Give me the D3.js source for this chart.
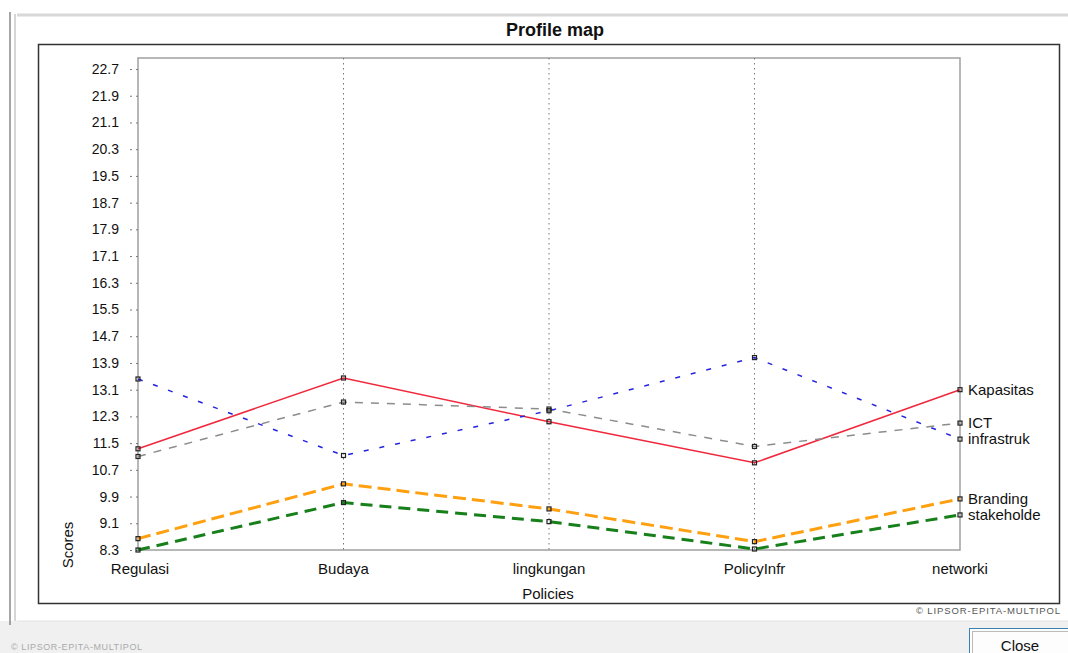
<!DOCTYPE html>
<html>
<head>
<meta charset="UTF-8">
<title>Profile map</title>
<script src="https://cdn.jsdelivr.net/npm/d3@7"></script>
<style>
  body { margin: 0; background: #fff; font-family: 'Liberation Sans', Arial, sans-serif; }
  text { fill: #111; }
</style>
</head>
<body>
<svg width="1068" height="653"></svg>
<script>
const policies = ['Regulasi', 'Budaya', 'lingkungan', 'PolicyInfr', 'networki'];
const tickLabels = ['8.3', '9.1', '9.9', '10.7', '11.5', '12.3', '13.1', '13.9', '14.7', '15.5',
  '16.3', '17.1', '17.9', '18.7', '19.5', '20.3', '21.1', '21.9', '22.7'];

const kapasitas  = [11.33, 13.45, 12.14, 10.91, 13.10];
const infrastruk = [13.42, 11.13, 12.47, 14.06, 11.62];
const ict        = [11.10, 12.73, 12.52, 11.40, 12.10];
const branding   = [8.64, 10.28, 9.53, 8.55, 9.83];
const stakeholde = [8.30, 9.72, 9.15, 8.33, 9.35];

const series = [
  { name: 'Kapasitas', values: kapasitas, color: '#f0283c', width: 1.5, dash: null },
  { name: 'ICT', values: ict, color: '#8c8c8c', width: 1.5, dash: '8,8' },
  { name: 'infrastruk', values: infrastruk, color: '#2424e0', width: 1.5, dash: '5,11' },
  { name: 'Branding', values: branding, color: '#ffa010', width: 3, dash: '13,6' },
  { name: 'stakeholde', values: stakeholde, color: '#17801a', width: 3, dash: '12,7' }
];

const svg = d3.select('svg');

// window chrome
svg.append('rect').attr('x', 0).attr('y', 621).attr('width', 1068).attr('height', 32).attr('fill', '#f0f0f0');
svg.append('line').attr('x1', 17).attr('x2', 1068).attr('y1', 621).attr('y2', 621).attr('stroke', '#e2e2e2');
svg.append('line').attr('x1', 17).attr('x2', 1068).attr('y1', 15).attr('y2', 15).attr('stroke', '#d8d8d8').attr('stroke-width', 3);
svg.append('line').attr('x1', 10).attr('x2', 10).attr('y1', 12).attr('y2', 625).attr('stroke', '#888').attr('stroke-width', 1.5);
svg.append('line').attr('x1', 15).attr('x2', 15).attr('y1', 14).attr('y2', 621).attr('stroke', '#c8c8c8').attr('stroke-width', 1.5);
svg.append('text').attr('x', 11).attr('y', 650).attr('font-size', 9).attr('letter-spacing', 0.6)
  .style('fill', '#aaa').text('© LIPSOR-EPITA-MULTIPOL');
svg.append('rect').attr('x', 969.5).attr('y', 628.5).attr('width', 110).attr('height', 30)
  .attr('fill', '#fdfdfd').attr('stroke', '#3c7fb1').attr('stroke-width', 1);
svg.append('rect').attr('x', 972.5).attr('y', 631.5).attr('width', 104).attr('height', 24)
  .attr('fill', 'none').attr('stroke', '#777').attr('stroke-dasharray', '1,1');
svg.append('text').attr('x', 1020).attr('y', 651).attr('text-anchor', 'middle').attr('font-size', 15).text('Close');

// title and chart frame
svg.append('text').attr('x', 555).attr('y', 36).attr('text-anchor', 'middle')
  .attr('font-size', 18).attr('font-weight', 'bold').text('Profile map');
svg.append('rect').attr('x', 38.5).attr('y', 44.5).attr('width', 1021).attr('height', 559)
  .attr('fill', 'none').attr('stroke', '#333').attr('stroke-width', 1.5);
svg.append('text').attr('x', 1061).attr('y', 614).attr('text-anchor', 'end')
  .attr('font-size', 9.5).attr('letter-spacing', 0.9).style('fill', '#555').text('© LIPSOR-EPITA-MULTIPOL');

const plotLeft = 138, plotRight = 960, plotTop = 58, plotBottom = 550;

const x = d3.scalePoint().domain(policies).range([plotLeft, plotRight]);
const y = d3.scaleLinear().domain([8.3, 23.03]).range([plotBottom, plotTop]);

// plot box
svg.append('rect').attr('x', plotLeft).attr('y', plotTop)
  .attr('width', plotRight - plotLeft).attr('height', plotBottom - plotTop)
  .attr('fill', 'none').attr('stroke', '#a0a0a0').attr('stroke-width', 1.5);

// vertical dotted guides
svg.selectAll('.guide').data(policies.slice(1, -1)).enter().append('line')
  .attr('x1', d => x(d)).attr('x2', d => x(d)).attr('y1', plotTop).attr('y2', plotBottom)
  .attr('stroke', '#777').attr('stroke-dasharray', '1.5,3.5');

// y axis
const yAxis = d3.axisLeft(y).tickValues(tickLabels.map(Number)).tickFormat(d3.format('.1f'))
  .tickSize(9).tickPadding(10);
const ya = svg.append('g').attr('transform', `translate(${plotLeft},0)`).call(yAxis);
ya.select('.domain').remove();
ya.selectAll('.tick line').attr('stroke', '#777').attr('stroke-dasharray', '2,4');
ya.selectAll('.tick text').attr('font-size', 14).attr('font-family', 'Liberation Sans, Arial, sans-serif').style('fill', '#111');

// x axis labels
svg.selectAll('.xl').data(policies).enter().append('text')
  .attr('x', (d, i) => i === 0 ? x(d) + 2 : x(d)).attr('y', 574).attr('text-anchor', 'middle')
  .attr('font-size', 15).text(d => d);

svg.append('text').attr('x', 548).attr('y', 599).attr('text-anchor', 'middle').attr('font-size', 15).text('Policies');
svg.append('text').attr('transform', 'translate(73,545) rotate(-90)').attr('text-anchor', 'middle')
  .attr('font-size', 15).text('Scores');

// series lines
const line = d3.line().x((d, i) => x(policies[i])).y(d => y(d));
series.forEach(s => {
  svg.append('path').attr('d', line(s.values)).attr('fill', 'none')
    .attr('stroke', s.color).attr('stroke-width', s.width)
    .attr('stroke-dasharray', s.dash);
});
series.forEach(s => {
  svg.selectAll(null).data(s.values).enter().append('rect')
    .attr('x', (d, i) => x(policies[i]) - 2).attr('y', d => y(d) - 2)
    .attr('width', 4).attr('height', 4)
    .attr('fill', 'none').attr('stroke', '#222').attr('stroke-width', 1.2);
  const last = s.values[s.values.length - 1];
  svg.append('text').attr('x', plotRight + 8).attr('y', y(last) + 5)
    .attr('font-size', 15).text(s.name);
});
</script>
</body>
</html>
